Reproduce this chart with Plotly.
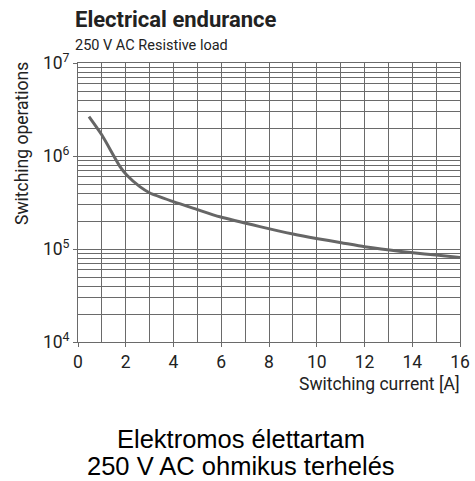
import plotly.graph_objects as go

# Data
current_a = [0.46, 1.0, 1.76, 2.04, 2.59, 3.01, 3.99, 4.97, 5.94, 7.62, 9.0, 9.98, 11.03, 12.0, 13.05, 14.03, 15.0, 16.0]
operations = [2.65e6, 1.68e6, 7.7e5, 6.25e5, 4.68e5, 4.0e5, 3.23e5, 2.67e5, 2.22e5, 1.74e5, 1.45e5, 1.30e5, 1.17e5, 1.06e5, 9.75e4, 9.1e4, 8.6e4, 8.1e4]

x_tick_vals = [0, 2, 4, 6, 8, 10, 12, 14, 16]
x_tick_text = ["0", "2", "4", "6", "8", "10", "12", "14", "16"]
y_tick_vals = [1e4, 1e5, 1e6, 1e7]
y_tick_text = ["10<sup>4</sup>", "10<sup>5</sup>", "10<sup>6</sup>", "10<sup>7</sup>"]
y_minor_vals = [m * 10 ** d for d in (4, 5, 6) for m in range(2, 10)]

title_text = "Electrical endurance"
subtitle_text = "250 V AC Resistive load"
x_title = "Switching current [A]"
y_title = "Switching operations"
caption_lines = ["Elektromos élettartam", "250 V AC ohmikus terhelés"]

NARROW = "Roboto, Liberation Sans, sans-serif"
CAPTION = "Liberation Sans, Arial, sans-serif"
GRID = "#6a6a6a"
TXT = "#222222"

fig = go.Figure()
fig.add_trace(go.Scatter(
    x=current_a, y=operations, mode="lines",
    line=dict(color="#666666", width=3, shape="spline", smoothing=0.6),
    showlegend=False, hoverinfo="skip",
))

W, H = 475, 481
L, R, T, B = 78, 15, 63, 139

fig.update_layout(
    width=W, height=H,
    margin=dict(l=L, r=R, t=T, b=B, autoexpand=False),
    paper_bgcolor="white", plot_bgcolor="white",
    font=dict(family=NARROW, color=TXT, size=16),
    xaxis=dict(
        range=[0, 16], tickvals=x_tick_vals, ticktext=x_tick_text,
        showgrid=True, gridcolor=GRID, gridwidth=1,
        minor=dict(dtick=1, showgrid=True, gridcolor=GRID, gridwidth=1),
        showline=True, linecolor=GRID, linewidth=1, mirror=True,
        ticks="outside", ticklen=4, tickcolor=GRID,
        tickfont=dict(family=NARROW, size=17.5, color=TXT),
        zeroline=False, fixedrange=True,
    ),
    yaxis=dict(
        type="log", range=[4, 7], tickvals=y_tick_vals, ticktext=y_tick_text,
        showgrid=True, gridcolor=GRID, gridwidth=1,
        minor=dict(tickvals=y_minor_vals, showgrid=True, gridcolor=GRID, gridwidth=1),
        showline=True, linecolor=GRID, linewidth=1, mirror=True,
        ticks="outside", ticklen=4, tickcolor=GRID,
        tickfont=dict(family=NARROW, size=17.5, color=TXT),
        zeroline=False, fixedrange=True,
    ),
)

def px_x(p):
    return (p - L) / (W - L - R)

def px_y(p):
    return 1 - (p - T) / (H - T - B)

annotations = [
    dict(text="<b>" + title_text + "</b>", x=px_x(73), y=px_y(19), xanchor="left", yanchor="middle",
         font=dict(family=NARROW, size=22, color=TXT)),
    dict(text=subtitle_text, x=px_x(73), y=px_y(45), xanchor="left", yanchor="middle",
         font=dict(family=NARROW, size=14.5, color=TXT)),
    dict(text=x_title, x=px_x(462), y=px_y(384), xanchor="right", yanchor="middle",
         font=dict(family=NARROW, size=17.5, color=TXT)),
    dict(text=y_title, x=px_x(22), y=px_y(144), xanchor="center", yanchor="middle", textangle=-90,
         font=dict(family=NARROW, size=17.5, color=TXT)),
    dict(text=caption_lines[0], x=px_x(241), y=px_y(439), xanchor="center", yanchor="middle",
         font=dict(family=CAPTION, size=25.5, color="#000000")),
    dict(text=caption_lines[1], x=px_x(241), y=px_y(466), xanchor="center", yanchor="middle",
         font=dict(family=CAPTION, size=25.5, color="#000000")),
]
for a in annotations:
    a.update(xref="paper", yref="paper", showarrow=False)
fig.update_layout(annotations=annotations)

fig.write_html("out.html", config={"displayModeBar": False},
               post_script="document.body.style.margin='0';")
